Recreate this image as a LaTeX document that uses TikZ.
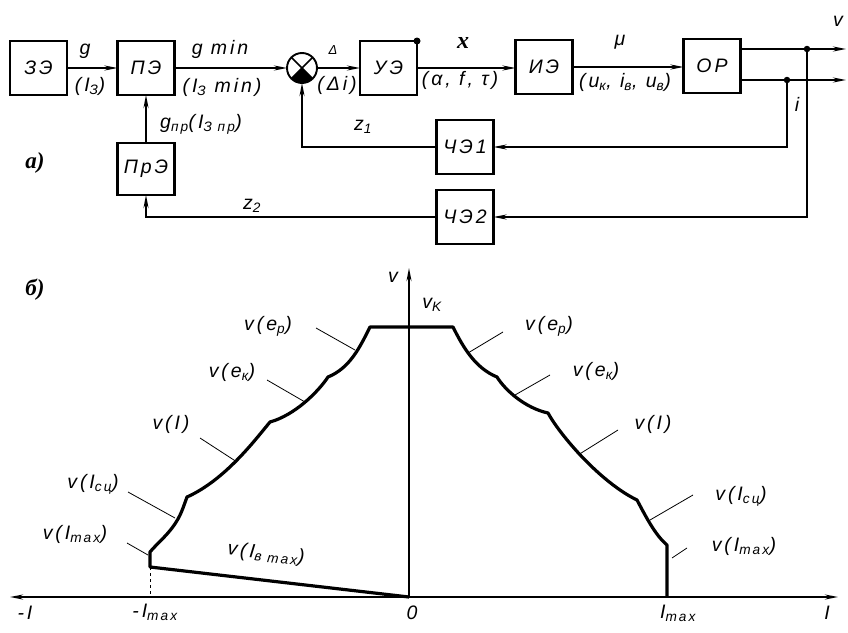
\documentclass[tikz,border=0pt]{standalone}
\usepackage{fontspec}
\setmainfont{Liberation Sans}[LetterSpace=15]
\newfontfamily\lblfont{Liberation Serif}
\usetikzlibrary{arrows.meta}
\newcommand\sbs[1]{\textsubscript{#1}}
\begin{document}
\begin{tikzpicture}[x=1pt,y=-1pt,
  every node/.style={font=\fontsize{19.5}{22}\selectfont\itshape, inner sep=0pt},
  blk/.style={draw, line width=2.4pt, minimum width=57pt, minimum height=54pt, inner sep=0pt, outer sep=0pt},
  conn/.style={line width=1.9pt},
  arr/.style={conn, -{Stealth[length=13pt,width=5pt]}},
  lead/.style={line width=0.8pt},
  curv/.style={line width=3.2pt, line join=round},
  dotn/.style={circle, fill, minimum size=6.5pt, inner sep=0pt, outer sep=0pt},
  part/.style={font=\lblfont\fontsize{23}{26}\selectfont\bfseries\itshape}
]
\useasboundingbox (0,0) rectangle (848,632);

% ---------- a) block diagram ----------
\node[blk] (ze) at (38.5,68) {ЗЭ};
\node[blk] (pe) at (146,68) {ПЭ};
\node[circle, draw, line width=1.9pt, minimum size=30pt, outer sep=0pt] (sum) at (302,68) {};
\node[blk] (ue) at (388.5,68) {УЭ};
\node[blk] (ie) at (544,67) {ИЭ};
\node[blk] (op) at (712,66) {ОР};
\node[blk] (ch1) at (465,147) {ЧЭ1};
\node[blk] (ch2) at (465,217) {ЧЭ2};
\node[blk, minimum height=52pt] (pre) at (146,169) {ПрЭ};

\draw[line width=1.5pt] (sum.45) -- (sum.225) (sum.135) -- (sum.315);
\fill (sum.center) -- (sum.225) arc[start angle=225, end angle=315, radius=15pt] -- cycle;

\draw[arr] (ze) -- (pe);
\draw[arr] (pe) -- (sum);
\draw[arr] (sum) -- (ue);
\draw[arr] (ue.east) -- (ie.west |- ue.east);
\draw[arr] (ie.east) -- (op.west |- ie.east);

\coordinate (d1) at (807,49);
\coordinate (d2) at (787,80);
\coordinate (o1) at (846,49);
\coordinate (o2) at (846,80);
\draw[arr] (op.east |- d1) -- (o1);
\draw[arr] (op.east |- d2) -- (o2);
\node[dotn] at (d1) {};
\node[dotn] at (d2) {};
\node[dotn, minimum size=7pt] at (ue.north east) {};

\draw[arr] (d2) |- (ch1);
\draw[arr] (ch1) -| (sum);
\draw[arr] (d1) |- (ch2);
\draw[arr] (ch2) -| (pre);
\draw[arr] (pre) -- (pe);

\node at (85,51) {g};
\node at (90,86) {(I\sbs{З})};
\node at (220,49) {g min};
\node at (222,87) {(I\sbs{З} min)};
\node[font=\fontsize{13}{15}\selectfont\itshape] at (333,50) {Δ};
\node at (337,85) {(Δi)};
\node[font=\lblfont\fontsize{24}{26}\selectfont\bfseries\itshape] at (463,43) {x};
\node at (460,80) {(α, f, τ)};
\node at (620,42) {μ};
\node at (625,82) {(u\sbs{к}, i\sbs{в}, u\sbs{в})};
\node at (838,21) {v};
\node at (797,104) {i};
\node at (363,127) {z\sbs{1}};
\node at (252,206) {z\sbs{2}};
\node[anchor=west] at (160,124) {g\sbs{пр}(I\sbs{З пр})};
\node[part] at (35,163) {а)};

% ---------- б) characteristic ----------
\node[part] at (35,290) {б)};
\coordinate (O) at (409,597);
\coordinate (vtop) at (409,268);
\coordinate (xl) at (10,597);
\coordinate (xr) at (838,597);
\draw[conn, {Stealth[length=13pt,width=5pt]}-{Stealth[length=13pt,width=5pt]}] (xl) -- (xr);
\draw[arr] (O) -- (vtop);

\draw[curv] (O) -- (150,567) -- (150,552)
  .. controls (160,540) and (175,530) .. (183,508) -- (187,497)
  .. controls (225,480) and (255,440) .. (270,422)
  .. controls (295,415) and (318,392) .. (328,377)
  .. controls (350,368) and (360,347) .. (370,327)
  -- (453,327)
  .. controls (463,347) and (475,368) .. (497,377)
  .. controls (505,390) and (525,408) .. (548,413)
  .. controls (560,435) and (600,482) .. (637,500)
  .. controls (645,515) and (655,535) .. (667,545)
  -- (667,597);
\draw[lead, dashed] (150,567) -- (150,597);

\node at (268,326) {v(e\sbs{p})};
\draw[lead] (316,328) -- (355,350);
\node at (232,372) {v(e\sbs{к})};
\draw[lead] (267,380) -- (305,402);
\node at (171,424) {v(I)};
\draw[lead] (200,438) -- (237,462);
\node at (93,484) {v(I\sbs{сц})};
\draw[lead] (128,492) -- (175,518);
\node at (75,534) {v(I\sbs{max})};
\draw[lead] (127,543) -- (148,555);
\node[rotate=-6] at (266,554) {v(I\sbs{в max})};

\node at (549,326) {v(e\sbs{p})};
\draw[lead] (503,332) -- (468,353);
\node at (596,371) {v(e\sbs{к})};
\draw[lead] (550,375) -- (515,395);
\node at (653,424) {v(I)};
\draw[lead] (618,430) -- (578,455);
\node at (741,496) {v(I\sbs{сц})};
\draw[lead] (693,495) -- (650,520);
\node at (744,546) {v(I\sbs{max})};
\draw[lead] (687,548) -- (672,558);

\node at (393,277) {v};
\node at (432,305) {v\sbs{K}};
\node at (25,613) {-I};
\node at (155,612) {-I\sbs{max}};
\node at (412,613) {0};
\node at (678,613) {I\sbs{max}};
\node at (827,613) {I};
\end{tikzpicture}
\end{document}
